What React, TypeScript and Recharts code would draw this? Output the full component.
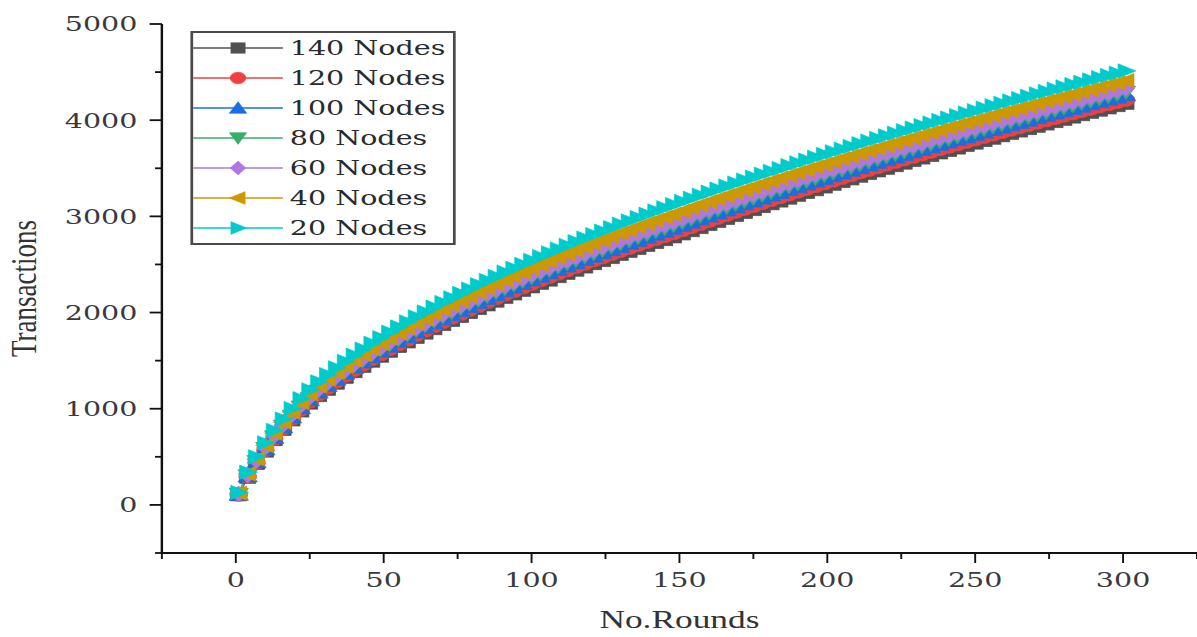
import React from 'react';
import { LineChart, Line, XAxis, YAxis, Legend } from 'recharts';

// x: round number of each sample
const rounds = [
  1, 4, 7, 10, 13, 16, 19, 22, 25, 28, 31, 34, 37, 40, 43, 46, 49, 52, 55, 58,
  61, 64, 67, 70, 73, 76, 79, 82, 85, 88, 91, 94, 97, 100, 103, 106, 109, 112, 115, 118,
  121, 124, 127, 130, 133, 136, 139, 142, 145, 148, 151, 154, 157, 160, 163, 166, 169, 172, 175, 178,
  181, 184, 187, 190, 193, 196, 199, 202, 205, 208, 211, 214, 217, 220, 223, 226, 229, 232, 235, 238,
  241, 244, 247, 250, 253, 256, 259, 262, 265, 268, 271, 274, 277, 280, 283, 286, 289, 292, 295, 298,
  301,
];

// transactions per series
const nodes140 = [
  102, 285, 427, 557, 675, 782, 881, 974, 1056, 1133, 1199, 1263, 1323, 1382, 1437, 1492, 1544, 1595, 1644, 1692,
  1738, 1784, 1829, 1872, 1915, 1956, 1997, 2038, 2077, 2116, 2154, 2191, 2228, 2264, 2300, 2335, 2370, 2404, 2438, 2471,
  2505, 2537, 2569, 2601, 2633, 2663, 2695, 2725, 2755, 2784, 2815, 2848, 2880, 2912, 2944, 2975, 3006, 3037, 3067, 3098,
  3128, 3157, 3187, 3216, 3245, 3274, 3303, 3331, 3359, 3387, 3415, 3443, 3470, 3497, 3524, 3551, 3578, 3604, 3630, 3657,
  3682, 3708, 3734, 3759, 3785, 3810, 3835, 3860, 3885, 3909, 3934, 3958, 3982, 4006, 4030, 4054, 4078, 4102, 4125, 4148,
  4172,
];
const nodes120 = [
  105, 291, 435, 568, 687, 795, 895, 989, 1073, 1150, 1217, 1282, 1343, 1402, 1458, 1514, 1566, 1618, 1668, 1716,
  1764, 1810, 1856, 1899, 1943, 1984, 2026, 2067, 2107, 2146, 2185, 2222, 2260, 2297, 2333, 2369, 2404, 2439, 2473, 2507,
  2541, 2573, 2606, 2639, 2670, 2701, 2733, 2764, 2794, 2824, 2855, 2888, 2920, 2952, 2984, 3015, 3046, 3077, 3107, 3138,
  3168, 3197, 3227, 3256, 3285, 3314, 3343, 3371, 3399, 3427, 3455, 3483, 3510, 3537, 3564, 3591, 3618, 3644, 3670, 3697,
  3722, 3748, 3774, 3799, 3825, 3850, 3875, 3900, 3925, 3949, 3974, 3998, 4022, 4046, 4070, 4094, 4118, 4142, 4165, 4188,
  4212,
];
const nodes100 = [
  109, 299, 446, 580, 701, 811, 913, 1008, 1093, 1172, 1240, 1306, 1368, 1428, 1485, 1541, 1595, 1648, 1698, 1747,
  1795, 1843, 1889, 1933, 1977, 2020, 2062, 2104, 2145, 2184, 2224, 2262, 2300, 2338, 2375, 2411, 2447, 2482, 2517, 2551,
  2585, 2619, 2652, 2685, 2717, 2749, 2781, 2813, 2843, 2874, 2905, 2938, 2970, 3002, 3034, 3065, 3096, 3127, 3157, 3188,
  3218, 3247, 3277, 3306, 3335, 3364, 3393, 3421, 3449, 3477, 3505, 3533, 3560, 3587, 3614, 3641, 3668, 3694, 3720, 3747,
  3772, 3798, 3824, 3849, 3875, 3900, 3925, 3950, 3975, 3999, 4024, 4048, 4072, 4096, 4120, 4144, 4168, 4192, 4215, 4238,
  4262,
];
const nodes80 = [
  112, 304, 452, 588, 710, 821, 924, 1020, 1105, 1185, 1254, 1320, 1383, 1443, 1501, 1558, 1612, 1665, 1717, 1766,
  1815, 1862, 1909, 1954, 1998, 2041, 2084, 2126, 2167, 2207, 2248, 2286, 2324, 2362, 2400, 2436, 2473, 2508, 2543, 2578,
  2612, 2646, 2680, 2713, 2746, 2778, 2810, 2842, 2873, 2904, 2935, 2968, 3000, 3032, 3064, 3095, 3126, 3157, 3187, 3218,
  3248, 3277, 3307, 3336, 3365, 3394, 3423, 3451, 3479, 3507, 3535, 3563, 3590, 3617, 3644, 3671, 3698, 3724, 3750, 3777,
  3802, 3828, 3854, 3879, 3905, 3930, 3955, 3980, 4005, 4029, 4054, 4078, 4102, 4126, 4150, 4174, 4198, 4222, 4245, 4268,
  4292,
];
const nodes60 = [
  115, 311, 461, 599, 722, 834, 938, 1035, 1122, 1202, 1272, 1339, 1403, 1464, 1523, 1580, 1635, 1689, 1741, 1791,
  1840, 1888, 1936, 1981, 2026, 2070, 2113, 2156, 2197, 2238, 2279, 2317, 2356, 2395, 2433, 2470, 2507, 2542, 2578, 2613,
  2648, 2682, 2716, 2750, 2783, 2816, 2849, 2881, 2912, 2943, 2975, 3008, 3040, 3072, 3104, 3135, 3166, 3197, 3227, 3258,
  3288, 3317, 3347, 3376, 3405, 3434, 3463, 3491, 3519, 3547, 3575, 3603, 3630, 3657, 3684, 3711, 3738, 3764, 3790, 3817,
  3842, 3868, 3894, 3919, 3945, 3970, 3995, 4020, 4045, 4069, 4094, 4118, 4142, 4166, 4190, 4214, 4238, 4262, 4285, 4308,
  4332,
];
const nodes40 = [
  122, 324, 478, 619, 746, 860, 966, 1066, 1154, 1237, 1308, 1377, 1442, 1505, 1565, 1625, 1681, 1736, 1789, 1841,
  1891, 1941, 1989, 2036, 2082, 2127, 2171, 2215, 2258, 2299, 2341, 2381, 2421, 2460, 2499, 2537, 2575, 2612, 2648, 2684,
  2720, 2755, 2790, 2825, 2859, 2892, 2926, 2959, 2991, 3023, 3055, 3088, 3120, 3152, 3184, 3215, 3246, 3277, 3307, 3338,
  3368, 3397, 3427, 3456, 3485, 3514, 3543, 3571, 3599, 3627, 3655, 3683, 3710, 3737, 3764, 3791, 3818, 3844, 3870, 3897,
  3922, 3948, 3974, 3999, 4025, 4050, 4075, 4100, 4125, 4149, 4174, 4198, 4222, 4246, 4270, 4294, 4318, 4342, 4365, 4388,
  4412,
];
const nodes20 = [
  130, 340, 500, 645, 775, 893, 1002, 1104, 1195, 1280, 1354, 1425, 1492, 1557, 1619, 1680, 1738, 1795, 1850, 1903,
  1955, 2006, 2056, 2104, 2152, 2198, 2244, 2289, 2333, 2376, 2419, 2460, 2501, 2542, 2582, 2621, 2660, 2698, 2736, 2773,
  2810, 2846, 2882, 2918, 2953, 2987, 3022, 3056, 3089, 3122, 3155, 3188, 3220, 3252, 3284, 3315, 3346, 3377, 3407, 3438,
  3468, 3497, 3527, 3556, 3585, 3614, 3643, 3671, 3699, 3727, 3755, 3783, 3810, 3837, 3864, 3891, 3918, 3944, 3970, 3997,
  4022, 4048, 4074, 4099, 4125, 4150, 4175, 4200, 4225, 4249, 4274, 4298, 4322, 4346, 4370, 4394, 4418, 4442, 4465, 4488,
  4512,
];

const xMajorTicks = [0, 50, 100, 150, 200, 250, 300];
const xMinorTicks = [-25, 25, 75, 125, 175, 225, 275, 325];
const yMajorTicks = [0, 1000, 2000, 3000, 4000, 5000];
const yMinorTicks = [-500, 500, 1500, 2500, 3500, 4500];

type Shape = 'square' | 'circle' | 'up' | 'down' | 'diamond' | 'left' | 'right';

const seriesList: { key: string; name: string; color: string; shape: Shape; values: number[] }[] = [
  { key: 'n140', name: '140 Nodes', color: '#515151', shape: 'square', values: nodes140 },
  { key: 'n120', name: '120 Nodes', color: '#F14040', shape: 'circle', values: nodes120 },
  { key: 'n100', name: '100 Nodes', color: '#1A6FDF', shape: 'up', values: nodes100 },
  { key: 'n80', name: '80 Nodes', color: '#37AD6B', shape: 'down', values: nodes80 },
  { key: 'n60', name: '60 Nodes', color: '#B177DE', shape: 'diamond', values: nodes60 },
  { key: 'n40', name: '40 Nodes', color: '#CC9900', shape: 'left', values: nodes40 },
  { key: 'n20', name: '20 Nodes', color: '#00CBCC', shape: 'right', values: nodes20 },
];

const data = rounds.map((r, i) => {
  const row: Record<string, number> = { round: r };
  seriesList.forEach(s => { row[s.key] = s.values[i]; });
  return row;
});

// the whole figure is drawn narrow and widened with a horizontal scale
const W = 880;
const H = 637;
const STRETCH = 1197 / W;

const TICK_FONT = '"DejaVu Serif", serif';
const TITLE_FONT = '"Liberation Serif", "Times New Roman", serif';

// k scales the symbol; 1 = 10px box
function markerShape(shape: Shape, cx: number, cy: number, color: string, k = 1) {
  const p = { fill: color, stroke: color, strokeWidth: 0.6 };
  const a = 5.5 * k;
  const b = 4.5 * k;
  switch (shape) {
    case 'square':
      return <rect x={cx - b} y={cy - b} width={2 * b} height={2 * b} {...p} />;
    case 'circle':
      return <circle cx={cx} cy={cy} r={5 * k} {...p} />;
    case 'up':
      return <polygon points={`${cx},${cy - a} ${cx + a},${cy + b} ${cx - a},${cy + b}`} {...p} />;
    case 'down':
      return <polygon points={`${cx},${cy + a} ${cx + a},${cy - b} ${cx - a},${cy - b}`} {...p} />;
    case 'diamond':
      return <polygon points={`${cx},${cy - 6 * k} ${cx + 5 * k},${cy} ${cx},${cy + 6 * k} ${cx - 5 * k},${cy}`} {...p} />;
    case 'left':
      return <polygon points={`${cx - a},${cy} ${cx + b},${cy - a} ${cx + b},${cy + a}`} {...p} />;
    case 'right':
    default:
      return <polygon points={`${cx + a},${cy} ${cx - b},${cy - a} ${cx - b},${cy + a}`} {...p} />;
  }
}

// tickSize/tickMargin are 0, so x/y given here sit on the axis line
const XTick = (props: any) => {
  const { x, y, payload } = props;
  const major = xMajorTicks.includes(payload.value);
  return (
    <g>
      <line x1={x} y1={y} x2={x} y2={y + (major ? 10 : 6)} stroke="#111" strokeWidth={1.4} />
      {major && (
        <text x={x} y={y + 34} textAnchor="middle" fontFamily={TICK_FONT} fontSize={21} fill="#3a3a3a">
          {payload.value}
        </text>
      )}
    </g>
  );
};

const YTick = (props: any) => {
  const { x, y, payload } = props;
  const major = yMajorTicks.includes(payload.value);
  return (
    <g>
      <line x1={x - (major ? 9 : 5)} y1={y} x2={x} y2={y} stroke="#111" strokeWidth={1.8} />
      {major && (
        <text x={x - 18} y={y + 7.5} textAnchor="end" fontFamily={TICK_FONT} fontSize={21} fill="#3a3a3a">
          {payload.value}
        </text>
      )}
    </g>
  );
};

const LegendBox = () => (
  <div style={{ border: '2px solid #4a4a4a', background: '#fff', width: 191, height: 210 }}>
    {seriesList.map(s => (
      <div key={s.key} style={{ display: 'flex', alignItems: 'center', height: 30 }}>
        <svg width={66} height={30} style={{ display: 'block' }}>
          <line x1={0} y1={15} x2={66} y2={15} stroke={s.color} strokeWidth={1.3} />
          {markerShape(s.shape, 33, 15, s.color, 1.15)}
        </svg>
        <span style={{ marginLeft: 5, fontFamily: TICK_FONT, fontSize: 21, color: '#2a2a2a', whiteSpace: 'nowrap' }}>
          {s.name}
        </span>
      </div>
    ))}
  </div>
);

export default function App() {
  return (
    <div style={{ position: 'absolute', left: 0, top: 0, width: 1197, height: H, overflow: 'hidden', background: '#fff' }}>
      <div style={{ width: W, height: H, transform: `scaleX(${STRETCH})`, transformOrigin: '0 0' }}>
        <LineChart width={W} height={H} data={data} margin={{ top: 24, right: 0, bottom: 0, left: 0 }}>
          <XAxis
            type="number"
            dataKey="round"
            domain={[-25, 325]}
            ticks={[...xMinorTicks, ...xMajorTicks].sort((a, b) => a - b)}
            interval={0}
            height={84}
            tickSize={0}
            tickMargin={0}
            tickLine={false}
            tick={<XTick />}
            axisLine={{ stroke: '#111', strokeWidth: 2.2 }}
            label={{
              content: (p: any) => {
                const vb = p.viewBox;
                return (
                  <text x={vb.x + vb.width / 2} y={vb.y + 75} textAnchor="middle" fontFamily={TITLE_FONT} fontSize={26} fill="#333">
                    No.Rounds
                  </text>
                );
              },
            }}
          />
          <YAxis
            type="number"
            domain={[-500, 5000]}
            ticks={[...yMinorTicks, ...yMajorTicks].sort((a, b) => a - b)}
            interval={0}
            width={119}
            tickSize={0}
            tickMargin={0}
            tickLine={false}
            tick={<YTick />}
            axisLine={{ stroke: '#111', strokeWidth: 1.8 }}
            label={{
              content: (p: any) => {
                const vb = p.viewBox;
                const cx = 17;
                const cy = vb.y + vb.height / 2;
                return (
                  <text x={cx} y={cy} transform={`rotate(-90 ${cx} ${cy})`} textAnchor="middle" dominantBaseline="central" fontFamily={TITLE_FONT} fontSize={27} fill="#333">
                    Transactions
                  </text>
                );
              },
            }}
          />
          <Legend
            layout="vertical"
            align="center"
            verticalAlign="middle"
            content={<LegendBox />}
            wrapperStyle={{ left: 140, top: 31, width: 195, height: 214 }}
          />
          {seriesList.map(s => (
            <Line
              key={s.key}
              dataKey={s.key}
              name={s.name}
              type="linear"
              stroke={s.color}
              strokeWidth={1}
              isAnimationActive={false}
              activeDot={false}
              dot={(p: any) => <g key={`${s.key}-${p.index}`}>{markerShape(s.shape, p.cx, p.cy, s.color, 1.3)}</g>}
            />
          ))}
        </LineChart>
      </div>
    </div>
  );
}
